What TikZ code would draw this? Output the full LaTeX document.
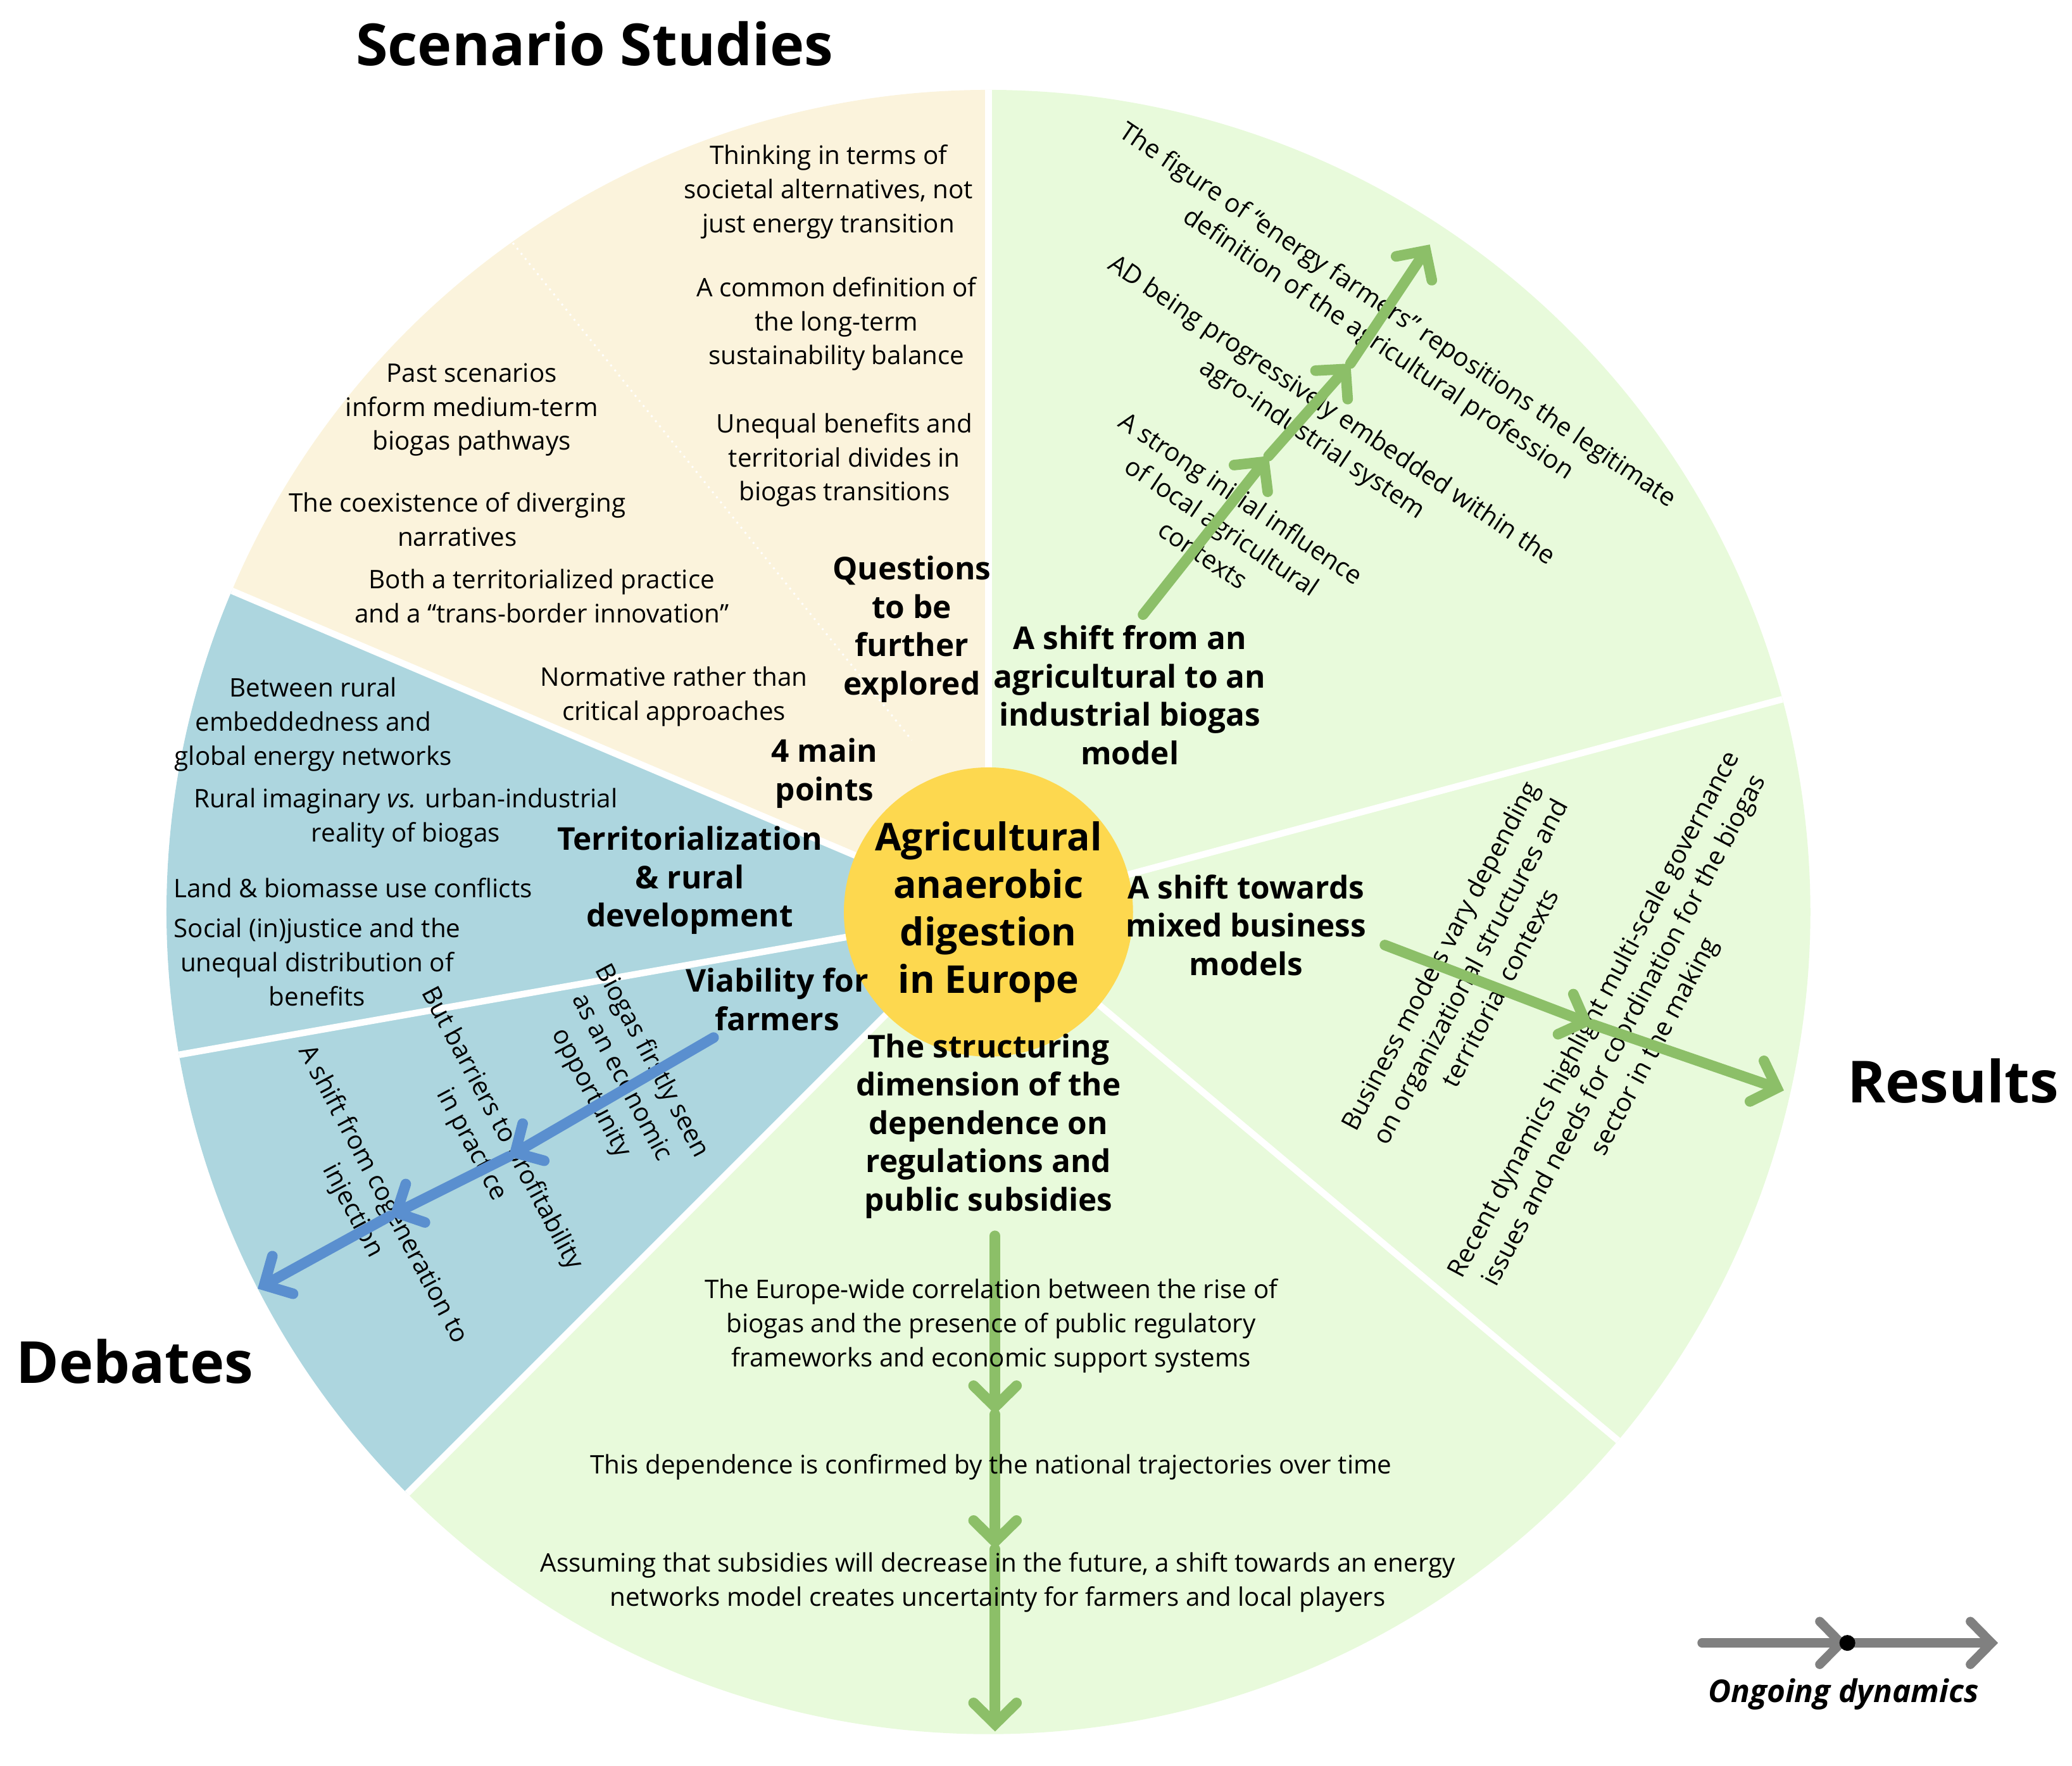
\documentclass[tikz,border=0pt]{standalone}
\usepackage{fontspec}
\setmainfont{Open Sans}
\usetikzlibrary{calc,arrows.meta}
\definecolor{beige}{HTML}{FBF3DC}
\definecolor{lgreen}{HTML}{E8FADB}
\definecolor{lblue}{HTML}{ADD6DF}
\definecolor{sun}{HTML}{FDD84F}
\definecolor{agreen}{HTML}{8CBF68}
\definecolor{ablue}{HTML}{5A8FCF}
\definecolor{agray}{HTML}{808080}
\def\Radius{12.44cm}

\begin{document}
\begin{tikzpicture}[x=0.2mm,y=-0.2mm,
  txt/.style={font=\fontsize{11}{14.7}\selectfont,align=center,inner sep=1pt},
  lbl/.style={font=\fontsize{13.5}{16.5}\selectfont\bfseries,align=center,inner sep=1pt},
  ttl/.style={font=\fontsize{25}{30}\selectfont\bfseries,inner sep=0pt},
  flow/.style={line width=1.6mm,line cap=round,-{Straight Barb[length=3.2mm,width=6.5mm,line cap=round]}},
  sep/.style={white,line width=1mm}]
  \useasboundingbox (0,0) rectangle (1568,1336);
  \coordinate (C) at (748,690);
  % sectors
  \fill [beige] (C) -- ($(C)+(90:\Radius)$) arc[start angle=90,end angle=157,radius=\Radius] -- cycle;
  \fill [lblue] (C) -- ($(C)+(157:\Radius)$) arc[start angle=157,end angle=225,radius=\Radius] -- cycle;
  \fill [lgreen] (C) -- ($(C)+(225:\Radius)$) arc[start angle=225,end angle=450,radius=\Radius] -- cycle;
  % separators
  \foreach \a in {90,15,-40,-135,190,157}
    \draw [sep] (C) -- ($(C)+(\a:\Radius)$);
  \draw [white,thick,dotted] (385,180) -- (690,560);
  % centre
  \node [circle,fill=sun,minimum size=4.2cm,inner sep=0pt,font=\fontsize{16.5}{20.4}\selectfont\bfseries,align=center] (core) at (C) {Agricultural\\anaerobic\\digestion\\in Europe};
  % titles
  \node [ttl] (scen) at (450,33) {Scenario Studies};
  \node [ttl] (res) at (1478,818) {Results};
  \node [ttl] (deb) at (102,1030) {Debates};
  % scenario studies
  \node [txt] (s1) at (627,145) {Thinking in terms of\\societal alternatives, not\\just energy transition};
  \node [txt] (s2) at (633,245) {A common definition of\\the long-term\\sustainability balance};
  \node [txt] (s3) at (639,348) {Unequal benefits and\\territorial divides in\\biogas transitions};
  \node [txt] (s4) at (357,310) {Past scenarios\\inform medium-term\\biogas pathways};
  \node [txt] (s5) at (346,393) {The coexistence of diverging\\narratives};
  \node [txt] (s6) at (410,451) {Both a territorialized practice\\and a “trans-border innovation”};
  \node [txt] (s7) at (510,527) {Normative rather than\\critical approaches};
  \node [lbl] (q) at (690,476) {Questions\\to be\\further\\explored};
  \node [lbl] (mp) at (624,585) {4 main\\points};
  % debates
  \node [txt] (d1) at (237,548) {Between rural\\embeddedness and\\global energy networks};
  \node [txt] (d2) at (307,619) {Rural imaginary \textit{vs.} urban-industrial\\reality of biogas};
  \node [txt] (d3) at (267,672) {Land \& biomasse use conflicts};
  \node [txt] (d4) at (240,728) {Social (in)justice and the\\unequal distribution of\\benefits};
  \node [lbl] (terr) at (522,666) {Territorialization\\\& rural\\development};
  \node [lbl] (via) at (588,756) {Viability for\\farmers};
  \node [txt,rotate=-62] (v1) at (470,815) {Biogas firstly seen\\as an economic\\opportunity};
  \node [txt,rotate=-62] (v2) at (368,860) {But barriers to profitability\\in practice};
  \node [txt,rotate=-62] (v3) at (278,910) {A shift from cogeneration to\\injection};
  \coordinate (b0) at (540,785);
  \coordinate (b1) at (385,875);
  \coordinate (b2) at (295,920);
  \coordinate (b3) at (195,975);
  \draw [flow,ablue] (b0) -- (b1);
  \draw [flow,ablue] (b1) -- (b2);
  \draw [flow,ablue] (b2) -- (b3);
  % results: industrial model
  \node [lbl] (ind) at (855,526) {A shift from an\\agricultural to an\\industrial biogas\\model};
  \node [txt,rotate=-34] (i1) at (1050,250) {The figure of “energy farmers” repositions the legitimate\\definition of the agricultural profession};
  \node [txt,rotate=-34] (i2) at (1000,322) {AD being progressively embedded within the\\agro-industrial system};
  \node [txt,rotate=-34] (i3) at (925,398) {A strong initial influence\\of local agricultural\\contexts};
  \coordinate (g0) at (865,465);
  \coordinate (g1) at (960,345);
  \coordinate (g2) at (1022,275);
  \coordinate (g3) at (1082,185);
  \draw [flow,agreen] (g0) -- (g1);
  \draw [flow,agreen] (g1) -- (g2);
  \draw [flow,agreen] (g2) -- (g3);
  % results: business models
  \node [lbl] (mix) at (943,700) {A shift towards\\mixed business\\models};
  \node [txt,rotate=62] (m1) at (1112,735) {Business models vary depending\\on organizational structures and\\territorial contexts};
  \node [txt,rotate=62] (m2) at (1230,780) {Recent dynamics highlight multi-scale governance\\issues and needs for coordination for the biogas\\sector in the making};
  \coordinate (h0) at (1048,715);
  \coordinate (h1) at (1205,775);
  \coordinate (h2) at (1350,825);
  \draw [flow,agreen] (h0) -- (h1);
  \draw [flow,agreen] (h1) -- (h2);
  % results: regulations
  \node [lbl] (reg) at (748,852) {The structuring\\dimension of the\\dependence on\\regulations and\\public subsidies};
  \coordinate (r0) at (753,935);
  \coordinate (r1) at (753,1070);
  \coordinate (r2) at (753,1172);
  \coordinate (r3) at (753,1310);
  \draw [flow,agreen] (r0) -- (r1);
  \draw [flow,agreen] (r1) -- (r2);
  \draw [flow,agreen] (r2) -- (r3);
  \node [txt] (p1) at (750,1003) {The Europe-wide correlation between the rise of\\biogas and the presence of public regulatory\\frameworks and economic support systems};
  \node [txt] (p2) at (750,1110) {This dependence is confirmed by the national trajectories over time};
  \node [txt] (p3) at (755,1197) {Assuming that subsidies will decrease in the future, a shift towards an energy\\networks model creates uncertainty for farmers and local players};
  % legend
  \coordinate (l0) at (1288,1243);
  \coordinate (l1) at (1398,1243);
  \coordinate (l2) at (1512,1243);
  \draw [flow,agray,line width=1.4mm] (l0) -- (l1);
  \draw [flow,agray,line width=1.4mm] (l1) -- (l2);
  \fill (l1) circle (1.2mm);
  \node [font=\fontsize{13.5}{16}\selectfont\bfseries\itshape] (leg) at (1395,1282) {Ongoing dynamics};
\end{tikzpicture}
\end{document}
